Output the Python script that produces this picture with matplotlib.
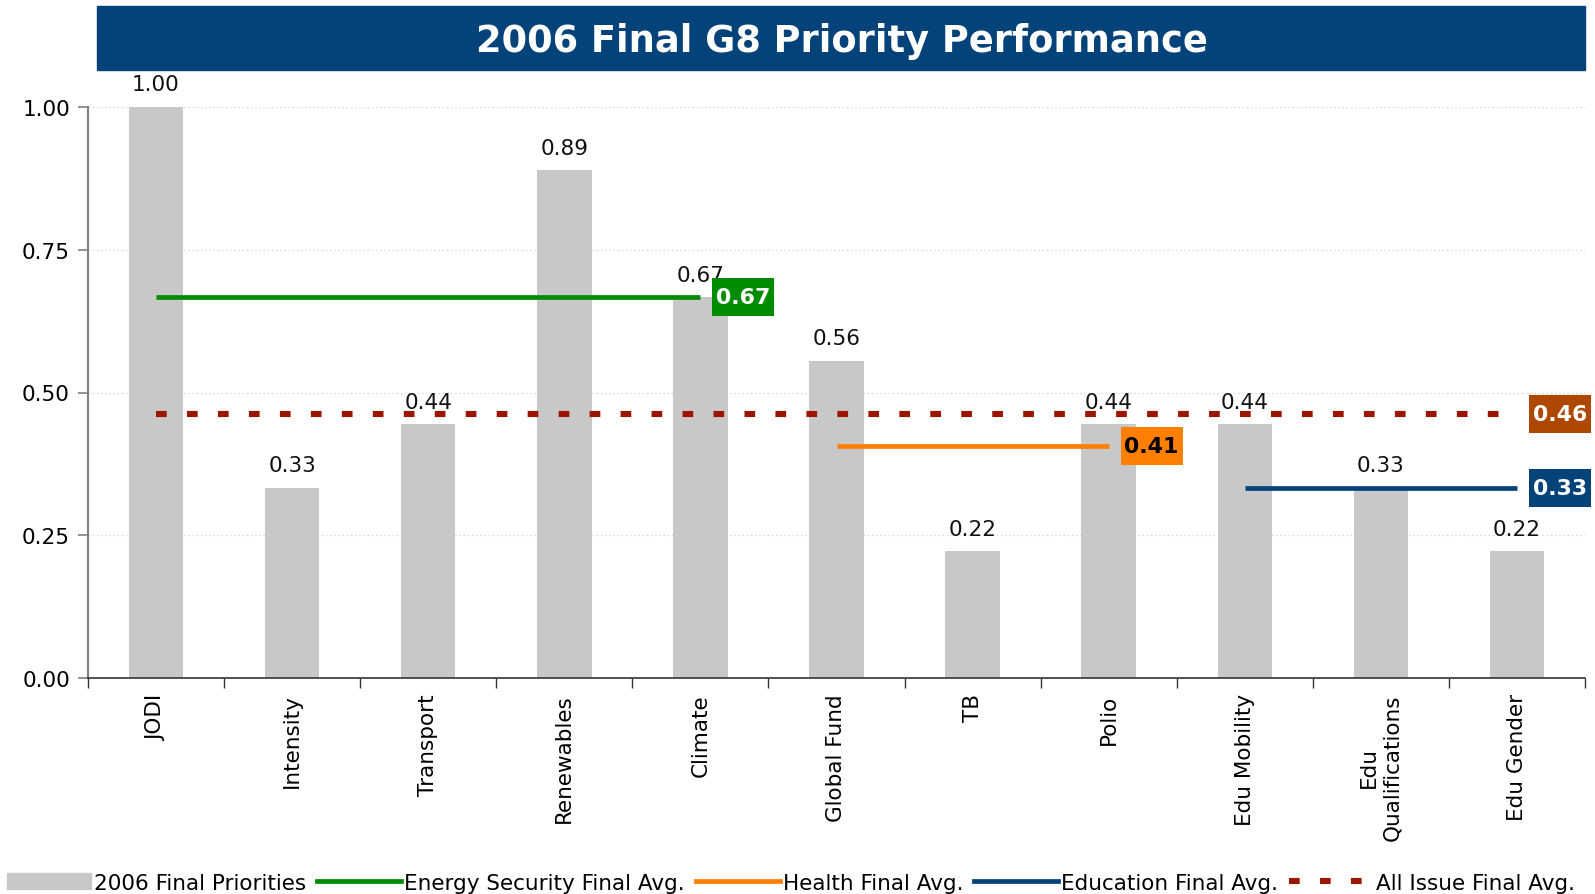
import matplotlib
matplotlib.use('Agg')
import numpy as np
import matplotlib.pyplot as plt
from matplotlib.patches import Rectangle, Patch
from matplotlib.lines import Line2D
from matplotlib.transforms import IdentityTransform

plt.rcParams['font.family'] = ['DejaVu Sans']
plt.rcParams['lines.scale_dashes'] = False

title = "2006 Final G8 Priority Performance"
categories = ['JODI', 'Intensity', 'Transport', 'Renewables', 'Climate', 'Global Fund',
              'TB', 'Polio', 'Edu Mobility', 'Edu\nQualifications', 'Edu Gender']
priority_scores = [1.00, 0.333, 0.444, 0.889, 0.667, 0.556, 0.222, 0.444, 0.444, 0.333, 0.222]

energy_avg = 0.667
energy_span = (0, 4)        # JODI .. Climate
health_avg = 0.407
health_span = (5, 7)        # Global Fund .. Polio
education_avg = 0.333
education_span = (8, 10)    # Edu Mobility .. Edu Gender
all_issue_avg = 0.463
all_issue_span = (0, 10)

yticks = [0.00, 0.25, 0.50, 0.75, 1.00]
legend_labels = ['2006 Final Priorities', 'Energy Security Final Avg.', 'Health Final Avg.',
                 'Education Final Avg.', 'All Issue Final Avg.']

BAR = '#C8C8C8'
GREEN = '#008C00'
ORANGE = '#FF7F00'
BLUE = '#03437A'
RED = '#9B1500'
BROWN = '#AE4800'
FS = 15.5
DASH = (0, (7.7, 14.6))
DLW = 4.4

W, H = 1595, 895
fig = plt.figure(figsize=(W / 100, H / 100), dpi=100)
ax = fig.add_axes([88 / W, 1 - 679 / H, (1585 - 88) / W, (679 - 108) / H])

x = np.arange(len(categories))
bars = ax.bar(x, priority_scores, width=0.4, color=BAR, zorder=2)
ax.bar_label(bars, fmt='%.2f', padding=9, fontsize=FS, color='#111111')

ax.set_xlim(-0.5, len(categories) - 0.5)
ax.set_ylim(0, 1.0)
ax.set_yticks(yticks)
ax.set_yticklabels([f'{v:.2f}' for v in yticks], fontsize=FS)
ax.set_xticks(x)
ax.set_xticklabels(categories, rotation=90, fontsize=FS)
for lab in ax.get_xticklabels():
    lab.set_multialignment('center')
ax.set_xticks(np.arange(-0.5, len(categories)), minor=True)
ax.tick_params(axis='x', which='major', length=0, pad=11)
ax.tick_params(axis='x', which='minor', length=7, color='#333333', width=1)
ax.tick_params(axis='y', length=7, color='#808080', width=1.2, pad=6)

for s in ['top', 'right']:
    ax.spines[s].set_visible(False)
ax.spines['left'].set_color('#808080')
ax.spines['left'].set_linewidth(1.5)
ax.spines['bottom'].set_color('#333333')
ax.spines['bottom'].set_linewidth(1.2)
ax.yaxis.grid(True, linestyle=(0, (1, 2)), color='#D5D5D5', linewidth=0.9, zorder=0)
ax.set_axisbelow(True)

LW = 3.4
ax.plot(energy_span, [energy_avg] * 2, color=GREEN, lw=LW, zorder=4, solid_capstyle='butt')
ax.plot(health_span, [health_avg] * 2, color=ORANGE, lw=LW, zorder=4, solid_capstyle='butt')
ax.plot(education_span, [education_avg] * 2, color=BLUE, lw=LW, zorder=4, solid_capstyle='butt')
ax.plot(all_issue_span, [all_issue_avg] * 2, color=RED, lw=DLW, zorder=4,
        linestyle=DASH, dash_capstyle='butt')

BOX_W, BOX_H, BOX_GAP = 62, 38, 12   # pixels

def box(xend, val, fc, tc):
    px, py = ax.transData.transform((xend, val))
    x0 = px + BOX_GAP
    rect = Rectangle((x0, py - BOX_H / 2), BOX_W, BOX_H, transform=IdentityTransform(),
                     fc=fc, ec='none', zorder=6, clip_on=False)
    fig.patches.append(rect)
    fig.text(x0 + BOX_W / 2, py, f'{val:.2f}', transform=IdentityTransform(),
             ha='center', va='center', fontsize=15.8, fontweight='bold', color=tc, zorder=7)

box(energy_span[1], energy_avg, GREEN, 'white')
box(health_span[1], health_avg, ORANGE, 'black')
box(education_span[1], education_avg, BLUE, 'white')
box(all_issue_span[1], all_issue_avg, BROWN, 'white')

# title bar
fig.patches.append(Rectangle((97 / W, 1 - 71 / H), (1585 - 97) / W, 64 / H,
                             transform=fig.transFigure, color=BLUE, zorder=0))
fig.text(842 / W, 1 - 41 / H, title, color='white', fontsize=26.5, fontweight='bold',
         ha='center', va='center')

handles = [Patch(color=BAR),
           Line2D([], [], color=GREEN, lw=LW),
           Line2D([], [], color=ORANGE, lw=LW),
           Line2D([], [], color=BLUE, lw=LW),
           Line2D([], [], color=RED, lw=DLW, linestyle=DASH, dash_capstyle='butt')]
fig.legend(handles, legend_labels, loc='lower center', bbox_to_anchor=(0.496, -0.02), ncol=5,
           frameon=False, fontsize=FS, handlelength=3.9, handletextpad=0.15,
           columnspacing=0.5, handleheight=0.8)

fig.savefig('out.png', dpi=100)
